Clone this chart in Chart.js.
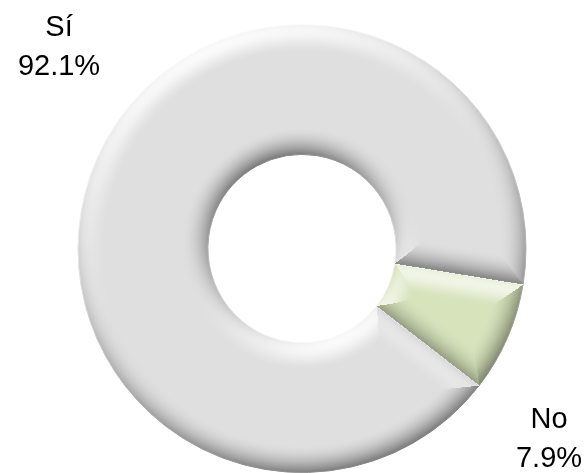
<!DOCTYPE html>
<html>
<head>
<meta charset="utf-8">
<script src="https://cdn.jsdelivr.net/npm/chart.js@4/dist/chart.umd.min.js"></script>
<style>
html,body{margin:0;padding:0;background:#fff;}
#wrap{width:587px;height:473px;position:relative;}
</style>
</head>
<body>
<div id="wrap"><canvas id="c" width="587" height="473"></canvas></div>
<script>
const categories = ["Sí", "No"];
const values = [92.1, 7.9];
const valueLabels = ["92.1%", "7.9%"];
const colors = ["#dfdfdf", "#d6e3bb"];

// per-pixel bevel shading using the arc elements' geometry
const bevel = {
  id: 'bevel',
  afterDatasetsDraw(chart) {
    const ctx = chart.ctx;
    const arcs = chart.getDatasetMeta(0).data.map(a =>
      a.getProps(['x','y','innerRadius','outerRadius','startAngle','endAngle'], true));
    if (!arcs.length) return;
    const cx = arcs[0].x, cy = arcs[0].y, R = arcs[0].outerRadius, r0 = arcs[0].innerRadius;
    const x0 = Math.max(0, Math.floor(cx - R - 2)), y0 = Math.max(0, Math.floor(cy - R - 2));
    const x1 = Math.min(chart.width, Math.ceil(cx + R + 2)), y1 = Math.min(chart.height, Math.ceil(cy + R + 2));
    const w = x1 - x0, h = y1 - y0;
    const img = ctx.getImageData(x0, y0, w, h);
    const d = img.data;
    const bw = 27, phiMax = 1.2;
    const Lx = -0.4, Ly = -0.92;
    const TAU = Math.PI * 2;
    for (let j = 0; j < h; j++) {
      for (let i = 0; i < w; i++) {
        const dx = x0 + i + 0.5 - cx, dy = y0 + j + 0.5 - cy;
        const r = Math.hypot(dx, dy);
        if (r < r0 - 1.5 || r > R + 1.5) continue;
        const a = Math.atan2(dy, dx);
        let arc = null, aa = 0;
        for (const p of arcs) {
          let t = a;
          while (t < p.startAngle) t += TAU;
          while (t >= p.startAngle + TAU) t -= TAU;
          if (t <= p.endAngle) { arc = p; aa = t; break; }
        }
        if (!arc) continue;
        const ca = dx / (r || 1), sa = dy / (r || 1);
        const s = arc.startAngle, e = arc.endAngle;
        const dOut = R - r, dIn = r - r0;
        const dS = (aa - s) < Math.PI / 2 ? r * Math.sin(aa - s) : r;
        const dE = (e - aa) < Math.PI / 2 ? r * Math.sin(e - aa) : r;
        let dist = dOut, nx = ca, ny = sa;
        if (dIn < dist) { dist = dIn; nx = -ca; ny = -sa; }
        if (dS < dist) { dist = dS; nx = Math.sin(s); ny = -Math.cos(s); }
        if (dE < dist) { dist = dE; nx = -Math.sin(e); ny = Math.cos(e); }
        if (dist >= bw) continue;
        const t = Math.max(0, dist) / bw;
        const phi = phiMax * Math.pow(1 - t, 1.6);
        const delta = 0.6 * Math.sin(phi) * (nx * Lx + ny * Ly) + 0.55 * (Math.cos(phi) - 1);
        const k = (j * w + i) * 4;
        for (let c = 0; c < 3; c++) {
          let v = d[k + c];
          if (delta > 0) v = v + (255 - v) * Math.min(0.85, delta * 3.2);
          else v = v * (1 + delta * 0.5);
          d[k + c] = v;
        }
      }
    }
    ctx.putImageData(img, x0, y0);

    // labels
    ctx.save();
    ctx.fillStyle = '#000';
    ctx.font = '29px "Liberation Sans", Arial, sans-serif';
    ctx.textAlign = 'center';
    ctx.textBaseline = 'alphabetic';
    const area = chart.chartArea;
    const pos = [[area.left - 18, 36], [area.right + 22, 428]];
    categories.forEach((c, i) => {
      ctx.fillText(c, pos[i][0], pos[i][1]);
      ctx.fillText(valueLabels[i], pos[i][0], pos[i][1] + 39);
    });
    ctx.restore();
  }
};

new Chart(document.getElementById('c'), {
  type: 'doughnut',
  data: {
    labels: categories,
    datasets: [{
      data: values,
      backgroundColor: colors,
      borderColor: '#f4f4f4',
      borderWidth: 1
    }]
  },
  options: {
    responsive: false,
    animation: false,
    rotation: 127.7,
    cutout: '42%',
    layout: { padding: { left: 77, right: 60, top: 24, bottom: 0 } },
    plugins: { legend: { display: false }, tooltip: { enabled: false } }
  },
  plugins: [bevel]
});
</script>
</body>
</html>
